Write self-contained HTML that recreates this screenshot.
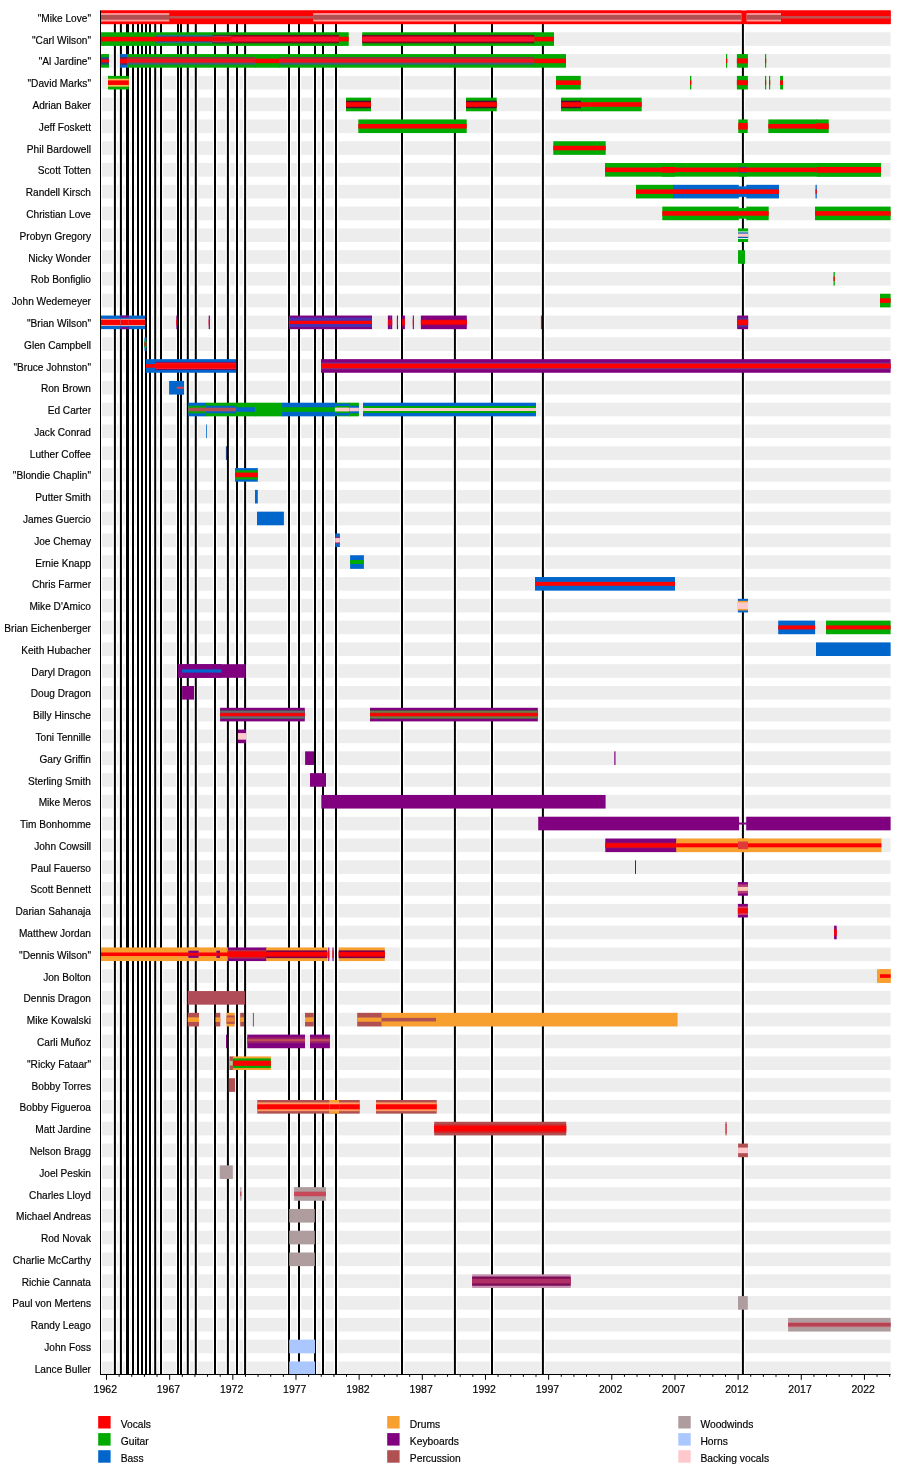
<!DOCTYPE html>
<html><head><meta charset="utf-8"><style>
html,body{margin:0;padding:0;background:#fff;width:900px;height:1474px;overflow:hidden}
svg{display:block;will-change:transform}
.t{font-family:"Liberation Sans",sans-serif;font-size:10.9px;fill:#000;stroke:#000;stroke-width:0.18px}
</style></head><body>
<svg width="900" height="1474" viewBox="0 0 900 1474">
<rect x="100.5" y="10.50" width="790.10" height="13.6" fill="#ededed"/>
<rect x="100.5" y="32.29" width="790.10" height="13.6" fill="#ededed"/>
<rect x="100.5" y="54.08" width="790.10" height="13.6" fill="#ededed"/>
<rect x="100.5" y="75.87" width="790.10" height="13.6" fill="#ededed"/>
<rect x="100.5" y="97.66" width="790.10" height="13.6" fill="#ededed"/>
<rect x="100.5" y="119.45" width="790.10" height="13.6" fill="#ededed"/>
<rect x="100.5" y="141.24" width="790.10" height="13.6" fill="#ededed"/>
<rect x="100.5" y="163.03" width="790.10" height="13.6" fill="#ededed"/>
<rect x="100.5" y="184.82" width="790.10" height="13.6" fill="#ededed"/>
<rect x="100.5" y="206.61" width="790.10" height="13.6" fill="#ededed"/>
<rect x="100.5" y="228.40" width="790.10" height="13.6" fill="#ededed"/>
<rect x="100.5" y="250.19" width="790.10" height="13.6" fill="#ededed"/>
<rect x="100.5" y="271.98" width="790.10" height="13.6" fill="#ededed"/>
<rect x="100.5" y="293.77" width="790.10" height="13.6" fill="#ededed"/>
<rect x="100.5" y="315.56" width="790.10" height="13.6" fill="#ededed"/>
<rect x="100.5" y="337.35" width="790.10" height="13.6" fill="#ededed"/>
<rect x="100.5" y="359.14" width="790.10" height="13.6" fill="#ededed"/>
<rect x="100.5" y="380.93" width="790.10" height="13.6" fill="#ededed"/>
<rect x="100.5" y="402.72" width="790.10" height="13.6" fill="#ededed"/>
<rect x="100.5" y="424.51" width="790.10" height="13.6" fill="#ededed"/>
<rect x="100.5" y="446.30" width="790.10" height="13.6" fill="#ededed"/>
<rect x="100.5" y="468.09" width="790.10" height="13.6" fill="#ededed"/>
<rect x="100.5" y="489.88" width="790.10" height="13.6" fill="#ededed"/>
<rect x="100.5" y="511.67" width="790.10" height="13.6" fill="#ededed"/>
<rect x="100.5" y="533.46" width="790.10" height="13.6" fill="#ededed"/>
<rect x="100.5" y="555.25" width="790.10" height="13.6" fill="#ededed"/>
<rect x="100.5" y="577.04" width="790.10" height="13.6" fill="#ededed"/>
<rect x="100.5" y="598.83" width="790.10" height="13.6" fill="#ededed"/>
<rect x="100.5" y="620.62" width="790.10" height="13.6" fill="#ededed"/>
<rect x="100.5" y="642.41" width="790.10" height="13.6" fill="#ededed"/>
<rect x="100.5" y="664.20" width="790.10" height="13.6" fill="#ededed"/>
<rect x="100.5" y="685.99" width="790.10" height="13.6" fill="#ededed"/>
<rect x="100.5" y="707.78" width="790.10" height="13.6" fill="#ededed"/>
<rect x="100.5" y="729.57" width="790.10" height="13.6" fill="#ededed"/>
<rect x="100.5" y="751.36" width="790.10" height="13.6" fill="#ededed"/>
<rect x="100.5" y="773.15" width="790.10" height="13.6" fill="#ededed"/>
<rect x="100.5" y="794.94" width="790.10" height="13.6" fill="#ededed"/>
<rect x="100.5" y="816.73" width="790.10" height="13.6" fill="#ededed"/>
<rect x="100.5" y="838.52" width="790.10" height="13.6" fill="#ededed"/>
<rect x="100.5" y="860.31" width="790.10" height="13.6" fill="#ededed"/>
<rect x="100.5" y="882.10" width="790.10" height="13.6" fill="#ededed"/>
<rect x="100.5" y="903.89" width="790.10" height="13.6" fill="#ededed"/>
<rect x="100.5" y="925.68" width="790.10" height="13.6" fill="#ededed"/>
<rect x="100.5" y="947.47" width="790.10" height="13.6" fill="#ededed"/>
<rect x="100.5" y="969.26" width="790.10" height="13.6" fill="#ededed"/>
<rect x="100.5" y="991.05" width="790.10" height="13.6" fill="#ededed"/>
<rect x="100.5" y="1012.84" width="790.10" height="13.6" fill="#ededed"/>
<rect x="100.5" y="1034.63" width="790.10" height="13.6" fill="#ededed"/>
<rect x="100.5" y="1056.42" width="790.10" height="13.6" fill="#ededed"/>
<rect x="100.5" y="1078.21" width="790.10" height="13.6" fill="#ededed"/>
<rect x="100.5" y="1100.00" width="790.10" height="13.6" fill="#ededed"/>
<rect x="100.5" y="1121.79" width="790.10" height="13.6" fill="#ededed"/>
<rect x="100.5" y="1143.58" width="790.10" height="13.6" fill="#ededed"/>
<rect x="100.5" y="1165.37" width="790.10" height="13.6" fill="#ededed"/>
<rect x="100.5" y="1187.16" width="790.10" height="13.6" fill="#ededed"/>
<rect x="100.5" y="1208.95" width="790.10" height="13.6" fill="#ededed"/>
<rect x="100.5" y="1230.74" width="790.10" height="13.6" fill="#ededed"/>
<rect x="100.5" y="1252.53" width="790.10" height="13.6" fill="#ededed"/>
<rect x="100.5" y="1274.32" width="790.10" height="13.6" fill="#ededed"/>
<rect x="100.5" y="1296.11" width="790.10" height="13.6" fill="#ededed"/>
<rect x="100.5" y="1317.90" width="790.10" height="13.6" fill="#ededed"/>
<rect x="100.5" y="1339.69" width="790.10" height="13.6" fill="#ededed"/>
<rect x="100.5" y="1361.48" width="790.10" height="13.6" fill="#ededed"/>
<rect x="112.70" y="12.5" width="4.4" height="1361.50" fill="#fff"/>
<rect x="118.70" y="12.5" width="4.4" height="1361.50" fill="#fff"/>
<rect x="124.80" y="12.5" width="4.4" height="1361.50" fill="#fff"/>
<rect x="125.80" y="12.5" width="4.4" height="1361.50" fill="#fff"/>
<rect x="130.80" y="12.5" width="4.4" height="1361.50" fill="#fff"/>
<rect x="135.80" y="12.5" width="4.4" height="1361.50" fill="#fff"/>
<rect x="139.80" y="12.5" width="4.4" height="1361.50" fill="#fff"/>
<rect x="143.80" y="12.5" width="4.4" height="1361.50" fill="#fff"/>
<rect x="147.80" y="12.5" width="4.4" height="1361.50" fill="#fff"/>
<rect x="153.00" y="12.5" width="4.4" height="1361.50" fill="#fff"/>
<rect x="158.80" y="12.5" width="4.4" height="1361.50" fill="#fff"/>
<rect x="175.80" y="12.5" width="4.4" height="1361.50" fill="#fff"/>
<rect x="178.80" y="12.5" width="4.4" height="1361.50" fill="#fff"/>
<rect x="185.60" y="12.5" width="4.4" height="1361.50" fill="#fff"/>
<rect x="193.60" y="12.5" width="4.4" height="1361.50" fill="#fff"/>
<rect x="212.80" y="12.5" width="4.4" height="1361.50" fill="#fff"/>
<rect x="225.70" y="12.5" width="4.4" height="1361.50" fill="#fff"/>
<rect x="234.80" y="12.5" width="4.4" height="1361.50" fill="#fff"/>
<rect x="242.90" y="12.5" width="4.4" height="1361.50" fill="#fff"/>
<rect x="286.80" y="12.5" width="4.4" height="1361.50" fill="#fff"/>
<rect x="296.80" y="12.5" width="4.4" height="1361.50" fill="#fff"/>
<rect x="312.80" y="12.5" width="4.4" height="1361.50" fill="#fff"/>
<rect x="320.80" y="12.5" width="4.4" height="1361.50" fill="#fff"/>
<rect x="333.80" y="12.5" width="4.4" height="1361.50" fill="#fff"/>
<rect x="399.80" y="12.5" width="4.4" height="1361.50" fill="#fff"/>
<rect x="452.70" y="12.5" width="4.4" height="1361.50" fill="#fff"/>
<rect x="489.80" y="12.5" width="4.4" height="1361.50" fill="#fff"/>
<rect x="540.70" y="12.5" width="4.4" height="1361.50" fill="#fff"/>
<rect x="740.70" y="12.5" width="4.4" height="1361.50" fill="#fff"/>
<rect x="100.50" y="10.5" width="1.6" height="1364.00" fill="#fff"/>
<rect x="113.90" y="12.5" width="2" height="1362.00" fill="#000"/>
<rect x="119.90" y="12.5" width="2" height="1362.00" fill="#000"/>
<rect x="126.00" y="12.5" width="2" height="1362.00" fill="#000"/>
<rect x="127.00" y="12.5" width="2" height="1362.00" fill="#000"/>
<rect x="132.00" y="12.5" width="2" height="1362.00" fill="#000"/>
<rect x="137.00" y="12.5" width="2" height="1362.00" fill="#000"/>
<rect x="141.00" y="12.5" width="2" height="1362.00" fill="#000"/>
<rect x="145.00" y="12.5" width="2" height="1362.00" fill="#000"/>
<rect x="149.00" y="12.5" width="2" height="1362.00" fill="#000"/>
<rect x="154.20" y="12.5" width="2" height="1362.00" fill="#000"/>
<rect x="160.00" y="12.5" width="2" height="1362.00" fill="#000"/>
<rect x="177.00" y="12.5" width="2" height="1362.00" fill="#000"/>
<rect x="180.00" y="12.5" width="2" height="1362.00" fill="#000"/>
<rect x="186.80" y="12.5" width="2" height="1362.00" fill="#000"/>
<rect x="194.80" y="12.5" width="2" height="1362.00" fill="#000"/>
<rect x="214.00" y="12.5" width="2" height="1362.00" fill="#000"/>
<rect x="226.90" y="12.5" width="2" height="1362.00" fill="#000"/>
<rect x="236.00" y="12.5" width="2" height="1362.00" fill="#000"/>
<rect x="244.10" y="12.5" width="2" height="1362.00" fill="#000"/>
<rect x="288.00" y="12.5" width="2" height="1362.00" fill="#000"/>
<rect x="298.00" y="12.5" width="2" height="1362.00" fill="#000"/>
<rect x="314.00" y="12.5" width="2" height="1362.00" fill="#000"/>
<rect x="322.00" y="12.5" width="2" height="1362.00" fill="#000"/>
<rect x="335.00" y="12.5" width="2" height="1362.00" fill="#000"/>
<rect x="401.00" y="12.5" width="2" height="1362.00" fill="#000"/>
<rect x="453.90" y="12.5" width="2" height="1362.00" fill="#000"/>
<rect x="491.00" y="12.5" width="2" height="1362.00" fill="#000"/>
<rect x="541.90" y="12.5" width="2" height="1362.00" fill="#000"/>
<rect x="741.90" y="12.5" width="2" height="1362.00" fill="#000"/>
<rect x="100.50" y="10.50" width="790.10" height="13.60" fill="#ff0000"/>
<rect x="100.50" y="10.50" width="69.50" height="13.60" fill="#ff0000"/>
<rect x="100.50" y="13.10" width="69.50" height="8.40" fill="#ff9a9a"/>
<rect x="100.50" y="14.90" width="69.50" height="4.80" fill="#b05050"/>
<rect x="169.30" y="10.50" width="144.60" height="13.60" fill="#ff0000"/>
<rect x="169.30" y="16.00" width="144.60" height="2.60" fill="#c05050"/>
<rect x="313.20" y="10.50" width="428.30" height="13.60" fill="#ff0000"/>
<rect x="313.20" y="13.10" width="428.30" height="8.40" fill="#ff9a9a"/>
<rect x="313.20" y="14.90" width="428.30" height="4.80" fill="#b05050"/>
<rect x="746.50" y="10.50" width="35.20" height="13.60" fill="#ff0000"/>
<rect x="746.50" y="13.10" width="35.20" height="8.40" fill="#ff9a9a"/>
<rect x="746.50" y="14.90" width="35.20" height="4.80" fill="#b05050"/>
<rect x="781.00" y="10.50" width="109.60" height="13.60" fill="#ff0000"/>
<rect x="781.00" y="16.00" width="109.60" height="2.60" fill="#c05050"/>
<rect x="100.50" y="32.29" width="55.30" height="13.60" fill="#00aa00"/>
<rect x="100.50" y="36.79" width="55.30" height="4.60" fill="#ff0000"/>
<rect x="155.10" y="32.29" width="57.90" height="13.60" fill="#00aa00"/>
<rect x="155.10" y="34.79" width="57.90" height="8.60" fill="#1a7a80"/>
<rect x="155.10" y="36.29" width="57.90" height="5.60" fill="#803060"/>
<rect x="155.10" y="37.09" width="57.90" height="4.00" fill="#ff0000"/>
<rect x="212.30" y="32.29" width="19.70" height="13.60" fill="#00aa00"/>
<rect x="212.30" y="34.79" width="19.70" height="8.60" fill="#303030"/>
<rect x="212.30" y="35.79" width="19.70" height="6.60" fill="#a04070"/>
<rect x="212.30" y="36.79" width="19.70" height="4.60" fill="#ff0000"/>
<rect x="231.30" y="32.29" width="108.30" height="13.60" fill="#00aa00"/>
<rect x="231.30" y="34.89" width="108.30" height="8.40" fill="#701020"/>
<rect x="231.30" y="36.29" width="108.30" height="5.60" fill="#e00828"/>
<rect x="231.30" y="37.09" width="108.30" height="4.00" fill="#ff1030"/>
<rect x="338.90" y="32.29" width="9.80" height="13.60" fill="#00aa00"/>
<rect x="338.90" y="36.79" width="9.80" height="4.60" fill="#ff0000"/>
<rect x="362.20" y="32.29" width="172.80" height="13.60" fill="#00aa00"/>
<rect x="362.20" y="34.89" width="172.80" height="8.40" fill="#701020"/>
<rect x="362.20" y="36.29" width="172.80" height="5.60" fill="#e00828"/>
<rect x="362.20" y="37.09" width="172.80" height="4.00" fill="#ff1030"/>
<rect x="534.30" y="32.29" width="19.70" height="13.60" fill="#00aa00"/>
<rect x="534.30" y="36.79" width="19.70" height="4.60" fill="#ff0000"/>
<rect x="100.50" y="54.08" width="8.50" height="13.60" fill="#00aa00"/>
<rect x="100.50" y="57.08" width="8.50" height="7.60" fill="#106080"/>
<rect x="100.50" y="58.58" width="8.50" height="4.60" fill="#702060"/>
<rect x="100.50" y="59.58" width="8.50" height="2.60" fill="#ff0000"/>
<rect x="120.20" y="54.08" width="7.80" height="13.60" fill="#0066cc"/>
<rect x="120.20" y="57.08" width="7.80" height="7.60" fill="#602060"/>
<rect x="120.20" y="58.58" width="7.80" height="4.60" fill="#ff0000"/>
<rect x="127.30" y="54.08" width="128.70" height="13.60" fill="#00aa00"/>
<rect x="127.30" y="57.08" width="128.70" height="1.50" fill="#8a3050"/>
<rect x="127.30" y="58.58" width="128.70" height="4.20" fill="#f01020"/>
<rect x="127.30" y="62.78" width="128.70" height="1.40" fill="#4a5a80"/>
<rect x="127.30" y="64.18" width="128.70" height="0.90" fill="#1a7a6a"/>
<rect x="255.30" y="54.08" width="24.70" height="13.60" fill="#00aa00"/>
<rect x="255.30" y="58.58" width="24.70" height="4.60" fill="#ff0000"/>
<rect x="279.30" y="54.08" width="255.70" height="13.60" fill="#00aa00"/>
<rect x="279.30" y="57.08" width="255.70" height="1.50" fill="#8a3050"/>
<rect x="279.30" y="58.58" width="255.70" height="4.20" fill="#f01020"/>
<rect x="279.30" y="62.78" width="255.70" height="1.40" fill="#4a5a80"/>
<rect x="279.30" y="64.18" width="255.70" height="0.90" fill="#1a7a6a"/>
<rect x="534.30" y="54.08" width="31.70" height="13.60" fill="#00aa00"/>
<rect x="534.30" y="58.58" width="31.70" height="4.60" fill="#ff0000"/>
<rect x="726.00" y="54.08" width="1.20" height="13.60" fill="#00aa00"/>
<rect x="726.00" y="58.58" width="1.20" height="4.60" fill="#ff0000"/>
<rect x="736.90" y="54.08" width="11.00" height="13.60" fill="#00aa00"/>
<rect x="736.90" y="58.38" width="11.00" height="5.00" fill="#ff0000"/>
<rect x="765.00" y="54.08" width="1.20" height="13.60" fill="#00aa00"/>
<rect x="765.00" y="58.58" width="1.20" height="4.60" fill="#ff0000"/>
<rect x="108.00" y="75.87" width="20.80" height="13.60" fill="#00aa00"/>
<rect x="108.00" y="78.67" width="20.80" height="8.00" fill="#f0c050"/>
<rect x="108.00" y="80.37" width="20.80" height="4.60" fill="#ff0000"/>
<rect x="556.00" y="75.87" width="24.70" height="13.60" fill="#00aa00"/>
<rect x="556.00" y="80.37" width="24.70" height="4.60" fill="#ff0000"/>
<rect x="690.00" y="75.87" width="1.30" height="13.60" fill="#00aa00"/>
<rect x="690.00" y="80.37" width="1.30" height="4.60" fill="#ff0000"/>
<rect x="736.90" y="75.87" width="11.00" height="13.60" fill="#00aa00"/>
<rect x="736.90" y="80.17" width="11.00" height="5.00" fill="#ff0000"/>
<rect x="765.00" y="75.87" width="1.20" height="13.60" fill="#00aa00"/>
<rect x="765.00" y="80.37" width="1.20" height="4.60" fill="#ff0000"/>
<rect x="769.00" y="75.87" width="1.20" height="13.60" fill="#00aa00"/>
<rect x="769.00" y="80.37" width="1.20" height="4.60" fill="#ff0000"/>
<rect x="780.10" y="75.87" width="2.90" height="13.60" fill="#00aa00"/>
<rect x="780.10" y="80.37" width="2.90" height="4.60" fill="#ff0000"/>
<rect x="346.00" y="97.66" width="25.00" height="13.60" fill="#00aa00"/>
<rect x="346.00" y="100.66" width="25.00" height="7.60" fill="#501030"/>
<rect x="346.00" y="102.16" width="25.00" height="4.60" fill="#ff0000"/>
<rect x="466.00" y="97.66" width="30.70" height="13.60" fill="#00aa00"/>
<rect x="466.00" y="100.66" width="30.70" height="7.60" fill="#501030"/>
<rect x="466.00" y="102.16" width="30.70" height="4.60" fill="#ff0000"/>
<rect x="561.00" y="97.66" width="20.70" height="13.60" fill="#00aa00"/>
<rect x="561.00" y="100.66" width="20.70" height="7.60" fill="#501030"/>
<rect x="561.00" y="102.16" width="20.70" height="4.60" fill="#ff0000"/>
<rect x="581.00" y="97.66" width="60.70" height="13.60" fill="#00aa00"/>
<rect x="581.00" y="102.16" width="60.70" height="4.60" fill="#ff0000"/>
<rect x="358.30" y="119.45" width="108.40" height="13.60" fill="#00aa00"/>
<rect x="358.30" y="123.95" width="108.40" height="4.60" fill="#ff0000"/>
<rect x="738.30" y="119.45" width="9.40" height="13.60" fill="#00aa00"/>
<rect x="738.30" y="122.95" width="9.40" height="6.60" fill="#ff0000"/>
<rect x="768.30" y="119.45" width="48.40" height="13.60" fill="#00aa00"/>
<rect x="768.30" y="123.95" width="48.40" height="4.60" fill="#ff0000"/>
<rect x="816.00" y="119.45" width="12.70" height="13.60" fill="#00aa00"/>
<rect x="816.00" y="123.35" width="12.70" height="5.80" fill="#ff0000"/>
<rect x="553.30" y="141.24" width="52.40" height="13.60" fill="#00aa00"/>
<rect x="553.30" y="145.74" width="52.40" height="4.60" fill="#ff0000"/>
<rect x="605.00" y="163.03" width="276.00" height="13.60" fill="#00aa00"/>
<rect x="605.00" y="167.53" width="276.00" height="4.60" fill="#ff0000"/>
<rect x="661.70" y="163.03" width="13.30" height="13.60" fill="#00aa00"/>
<rect x="661.70" y="166.93" width="13.30" height="5.80" fill="#ff0000"/>
<rect x="816.70" y="163.03" width="64.30" height="13.60" fill="#00aa00"/>
<rect x="816.70" y="166.93" width="64.30" height="5.80" fill="#ff0000"/>
<rect x="738.80" y="163.03" width="8.20" height="13.60" fill="#00aa00"/>
<rect x="738.80" y="166.83" width="8.20" height="6.00" fill="#3050a0"/>
<rect x="738.80" y="167.63" width="8.20" height="4.40" fill="#ff0000"/>
<rect x="636.00" y="184.82" width="38.00" height="13.60" fill="#00aa00"/>
<rect x="636.00" y="189.32" width="38.00" height="4.60" fill="#ff0000"/>
<rect x="673.30" y="184.82" width="65.50" height="13.60" fill="#0066cc"/>
<rect x="673.30" y="189.32" width="65.50" height="4.60" fill="#ff0000"/>
<rect x="746.30" y="184.82" width="32.70" height="13.60" fill="#0066cc"/>
<rect x="746.30" y="189.32" width="32.70" height="4.60" fill="#ff0000"/>
<rect x="815.50" y="184.82" width="1.30" height="13.60" fill="#0066cc"/>
<rect x="815.50" y="189.32" width="1.30" height="4.60" fill="#ff0000"/>
<rect x="738.10" y="186.32" width="8.90" height="10.60" fill="#0066cc"/>
<rect x="738.10" y="189.32" width="8.90" height="4.60" fill="#ff0000"/>
<rect x="662.30" y="206.61" width="76.50" height="13.60" fill="#00aa00"/>
<rect x="662.30" y="211.11" width="76.50" height="4.60" fill="#ff0000"/>
<rect x="746.30" y="206.61" width="22.40" height="13.60" fill="#00aa00"/>
<rect x="746.30" y="211.11" width="22.40" height="4.60" fill="#ff0000"/>
<rect x="815.00" y="206.61" width="75.60" height="13.60" fill="#00aa00"/>
<rect x="815.00" y="211.11" width="75.60" height="4.60" fill="#ff0000"/>
<rect x="738.10" y="208.11" width="8.90" height="10.60" fill="#00aa00"/>
<rect x="738.10" y="211.11" width="8.90" height="4.60" fill="#ff0000"/>
<rect x="738.00" y="228.40" width="10.10" height="13.60" fill="#00aa00"/>
<rect x="738.00" y="231.40" width="10.10" height="7.60" fill="#c8f0ff"/>
<rect x="738.00" y="232.40" width="10.10" height="5.60" fill="#1060a0"/>
<rect x="738.00" y="233.60" width="10.10" height="3.20" fill="#ffc8cc"/>
<rect x="738.00" y="250.19" width="7.00" height="13.60" fill="#00aa00"/>
<rect x="833.50" y="271.98" width="1.30" height="13.60" fill="#00aa00"/>
<rect x="833.50" y="276.48" width="1.30" height="4.60" fill="#ff0000"/>
<rect x="880.00" y="293.77" width="10.60" height="13.60" fill="#00aa00"/>
<rect x="880.00" y="298.27" width="10.60" height="4.60" fill="#ff0000"/>
<rect x="100.50" y="315.56" width="44.50" height="13.60" fill="#0066cc"/>
<rect x="100.50" y="318.86" width="44.50" height="7.00" fill="#ffc0b0"/>
<rect x="100.50" y="319.66" width="44.50" height="5.40" fill="#ff0000"/>
<rect x="120.50" y="315.56" width="8.30" height="13.60" fill="#800080"/>
<rect x="120.50" y="317.56" width="8.30" height="9.60" fill="#0066cc"/>
<rect x="120.50" y="318.86" width="8.30" height="7.00" fill="#ffc0b0"/>
<rect x="120.50" y="319.66" width="8.30" height="5.40" fill="#ff0000"/>
<rect x="208.70" y="315.56" width="1.20" height="13.60" fill="#800080"/>
<rect x="208.70" y="319.56" width="1.20" height="5.60" fill="#ff0000"/>
<rect x="288.90" y="315.56" width="83.10" height="13.60" fill="#800080"/>
<rect x="288.90" y="317.56" width="83.10" height="9.60" fill="#4a30b0"/>
<rect x="288.90" y="320.76" width="83.10" height="3.20" fill="#ff0000"/>
<rect x="387.90" y="315.56" width="1.10" height="13.60" fill="#800080"/>
<rect x="387.90" y="319.56" width="1.10" height="5.60" fill="#ff0000"/>
<rect x="388.80" y="315.56" width="1.80" height="13.60" fill="#800080"/>
<rect x="388.80" y="319.56" width="1.80" height="5.60" fill="#ff0000"/>
<rect x="390.40" y="315.56" width="1.80" height="13.60" fill="#800080"/>
<rect x="390.40" y="319.56" width="1.80" height="5.60" fill="#ff0000"/>
<rect x="396.90" y="315.56" width="1.10" height="13.60" fill="#800080"/>
<rect x="396.90" y="319.56" width="1.10" height="5.60" fill="#ff0000"/>
<rect x="402.20" y="315.56" width="2.70" height="13.60" fill="#800080"/>
<rect x="402.20" y="319.06" width="2.70" height="6.60" fill="#ff0000"/>
<rect x="412.80" y="315.56" width="1.10" height="13.60" fill="#800080"/>
<rect x="412.80" y="319.56" width="1.10" height="5.60" fill="#ff0000"/>
<rect x="420.90" y="315.56" width="45.90" height="13.60" fill="#800080"/>
<rect x="420.90" y="319.36" width="45.90" height="6.00" fill="#a00050"/>
<rect x="420.90" y="320.16" width="45.90" height="4.40" fill="#ff0000"/>
<rect x="540.90" y="315.56" width="1.10" height="13.60" fill="#ff0000"/>
<rect x="737.20" y="315.56" width="10.90" height="13.60" fill="#800080"/>
<rect x="737.20" y="317.56" width="10.90" height="9.60" fill="#5030a0"/>
<rect x="737.20" y="319.56" width="10.90" height="5.60" fill="#ff0000"/>
<rect x="176.30" y="315.56" width="1.10" height="13.60" fill="#800080"/>
<rect x="176.30" y="319.56" width="1.10" height="5.60" fill="#ff0000"/>
<rect x="144.50" y="337.35" width="2.00" height="13.60" fill="#0066cc"/>
<rect x="144.50" y="340.35" width="2.00" height="7.60" fill="#00aa00"/>
<rect x="144.50" y="342.35" width="2.00" height="3.60" fill="#ff0000"/>
<rect x="145.80" y="359.14" width="10.30" height="13.60" fill="#0066cc"/>
<rect x="145.80" y="364.14" width="10.30" height="3.60" fill="#ff0000"/>
<rect x="155.40" y="359.14" width="80.70" height="13.60" fill="#0066cc"/>
<rect x="155.40" y="361.94" width="80.70" height="8.00" fill="#500060"/>
<rect x="155.40" y="362.64" width="80.70" height="6.60" fill="#f03050"/>
<rect x="155.40" y="363.44" width="80.70" height="5.00" fill="#ff0000"/>
<rect x="321.00" y="359.14" width="569.60" height="13.60" fill="#800080"/>
<rect x="321.00" y="362.54" width="569.60" height="6.80" fill="#6a3a9a"/>
<rect x="321.00" y="363.54" width="569.60" height="4.80" fill="#ff0000"/>
<rect x="169.10" y="380.93" width="14.80" height="13.60" fill="#0066cc"/>
<rect x="176.70" y="380.93" width="7.20" height="13.60" fill="#0066cc"/>
<rect x="176.70" y="386.73" width="7.20" height="2.00" fill="#e04040"/>
<rect x="188.30" y="402.72" width="18.40" height="13.60" fill="#0066cc"/>
<rect x="188.30" y="405.72" width="18.40" height="7.60" fill="#00aa00"/>
<rect x="188.30" y="407.72" width="18.40" height="3.60" fill="#b05050"/>
<rect x="206.00" y="402.72" width="30.70" height="13.60" fill="#00aa00"/>
<rect x="206.00" y="405.72" width="30.70" height="7.60" fill="#0066cc"/>
<rect x="206.00" y="407.72" width="30.70" height="3.60" fill="#b05050"/>
<rect x="236.00" y="402.72" width="19.60" height="13.60" fill="#00aa00"/>
<rect x="236.00" y="407.22" width="19.60" height="4.60" fill="#0066cc"/>
<rect x="254.90" y="402.72" width="27.90" height="13.60" fill="#00aa00"/>
<rect x="282.10" y="402.72" width="53.50" height="13.60" fill="#0066cc"/>
<rect x="282.10" y="407.22" width="53.50" height="4.60" fill="#00aa00"/>
<rect x="334.90" y="402.72" width="15.10" height="13.60" fill="#00aa00"/>
<rect x="334.90" y="403.52" width="15.10" height="12.00" fill="#0066cc"/>
<rect x="334.90" y="406.02" width="15.10" height="7.00" fill="#00aa00"/>
<rect x="334.90" y="407.62" width="15.10" height="3.80" fill="#ffc8cc"/>
<rect x="349.30" y="402.72" width="9.60" height="13.60" fill="#00aa00"/>
<rect x="349.30" y="405.72" width="9.60" height="7.60" fill="#0066cc"/>
<rect x="349.30" y="407.72" width="9.60" height="3.60" fill="#ffc8cc"/>
<rect x="363.00" y="402.72" width="173.00" height="13.60" fill="#0066cc"/>
<rect x="363.00" y="406.02" width="173.00" height="7.00" fill="#00aa00"/>
<rect x="363.00" y="408.02" width="173.00" height="3.00" fill="#ffc8cc"/>
<rect x="206.10" y="424.51" width="0.80" height="13.60" fill="#0066cc"/>
<rect x="225.90" y="446.30" width="1.00" height="13.60" fill="#103070"/>
<rect x="235.00" y="468.09" width="22.80" height="13.60" fill="#0066cc"/>
<rect x="235.00" y="470.29" width="22.80" height="9.20" fill="#00aa00"/>
<rect x="235.00" y="472.59" width="22.80" height="4.60" fill="#ff0000"/>
<rect x="255.00" y="489.88" width="2.80" height="13.60" fill="#0066cc"/>
<rect x="257.00" y="511.67" width="26.90" height="13.60" fill="#0066cc"/>
<rect x="335.20" y="533.46" width="4.70" height="13.60" fill="#0066cc"/>
<rect x="335.20" y="536.76" width="4.70" height="7.00" fill="#903070"/>
<rect x="335.20" y="538.06" width="4.70" height="4.40" fill="#ffc8cc"/>
<rect x="350.10" y="555.25" width="13.80" height="13.60" fill="#0066cc"/>
<rect x="350.10" y="560.05" width="13.80" height="4.00" fill="#00aa00"/>
<rect x="535.00" y="577.04" width="140.00" height="13.60" fill="#0066cc"/>
<rect x="535.00" y="581.84" width="140.00" height="4.00" fill="#ff0000"/>
<rect x="737.90" y="598.83" width="10.10" height="13.60" fill="#0066cc"/>
<rect x="737.90" y="600.83" width="10.10" height="9.60" fill="#f7a030"/>
<rect x="737.90" y="602.33" width="10.10" height="6.60" fill="#ffc8cc"/>
<rect x="778.20" y="620.62" width="36.90" height="13.60" fill="#0066cc"/>
<rect x="778.20" y="625.42" width="36.90" height="4.00" fill="#ff0000"/>
<rect x="826.00" y="620.62" width="64.60" height="13.60" fill="#00aa00"/>
<rect x="826.00" y="625.42" width="64.60" height="4.00" fill="#ff0000"/>
<rect x="816.00" y="642.41" width="74.60" height="13.60" fill="#0066cc"/>
<rect x="178.00" y="664.20" width="67.60" height="13.60" fill="#800080"/>
<rect x="182.10" y="664.20" width="39.50" height="13.60" fill="#800080"/>
<rect x="182.10" y="669.40" width="39.50" height="3.20" fill="#0066cc"/>
<rect x="182.10" y="685.99" width="11.90" height="13.60" fill="#800080"/>
<rect x="220.10" y="707.78" width="84.70" height="13.60" fill="#800080"/>
<rect x="220.10" y="710.18" width="84.70" height="8.80" fill="#404050"/>
<rect x="220.10" y="710.68" width="84.70" height="7.80" fill="#6a6a70"/>
<rect x="220.10" y="712.68" width="84.70" height="3.80" fill="#a03040"/>
<rect x="220.10" y="713.28" width="84.70" height="2.60" fill="#ff0000"/>
<rect x="370.00" y="707.78" width="167.80" height="13.60" fill="#800080"/>
<rect x="370.00" y="710.18" width="167.80" height="8.80" fill="#404050"/>
<rect x="370.00" y="710.68" width="167.80" height="7.80" fill="#727a4a"/>
<rect x="370.00" y="712.68" width="167.80" height="3.80" fill="#b03018"/>
<rect x="370.00" y="713.28" width="167.80" height="2.60" fill="#ff0000"/>
<rect x="237.90" y="729.57" width="8.20" height="13.60" fill="#800080"/>
<rect x="237.90" y="733.07" width="8.20" height="6.60" fill="#ffc8cc"/>
<rect x="305.10" y="751.36" width="8.90" height="13.60" fill="#800080"/>
<rect x="614.30" y="751.36" width="1.20" height="13.60" fill="#800080"/>
<rect x="310.00" y="773.15" width="16.00" height="13.60" fill="#800080"/>
<rect x="321.30" y="794.94" width="284.30" height="13.60" fill="#800080"/>
<rect x="538.20" y="816.73" width="200.80" height="13.60" fill="#800080"/>
<rect x="738.30" y="822.53" width="8.60" height="2.00" fill="#800080"/>
<rect x="746.20" y="816.73" width="144.40" height="13.60" fill="#800080"/>
<rect x="605.30" y="838.52" width="71.60" height="13.60" fill="#800080"/>
<rect x="605.30" y="842.52" width="71.60" height="5.60" fill="#a01850"/>
<rect x="605.30" y="843.22" width="71.60" height="4.20" fill="#ff0000"/>
<rect x="676.20" y="838.52" width="205.20" height="13.60" fill="#f7a030"/>
<rect x="676.20" y="843.32" width="205.20" height="4.00" fill="#ff0000"/>
<rect x="738.00" y="838.52" width="10.00" height="13.60" fill="#f7a030"/>
<rect x="738.00" y="841.52" width="10.00" height="7.60" fill="#e03a3a"/>
<rect x="635.00" y="860.31" width="1.00" height="13.60" fill="#800080"/>
<rect x="737.90" y="882.10" width="10.00" height="13.60" fill="#800080"/>
<rect x="737.90" y="884.30" width="10.00" height="9.20" fill="#b83a72"/>
<rect x="737.90" y="886.90" width="10.00" height="4.00" fill="#ffcab8"/>
<rect x="737.90" y="903.89" width="10.00" height="13.60" fill="#800080"/>
<rect x="737.90" y="906.49" width="10.00" height="8.40" fill="#d8406a"/>
<rect x="737.90" y="908.09" width="10.00" height="5.20" fill="#f00808"/>
<rect x="834.10" y="925.68" width="2.60" height="13.60" fill="#800080"/>
<rect x="834.10" y="929.18" width="2.60" height="6.60" fill="#ff0000"/>
<rect x="100.50" y="947.47" width="128.00" height="13.60" fill="#f7a030"/>
<rect x="100.50" y="952.47" width="128.00" height="3.60" fill="#ff0000"/>
<rect x="188.30" y="947.47" width="10.30" height="13.60" fill="#f7a030"/>
<rect x="188.30" y="950.67" width="10.30" height="7.20" fill="#800080"/>
<rect x="188.30" y="952.87" width="10.30" height="2.80" fill="#ff0000"/>
<rect x="216.40" y="947.47" width="3.60" height="13.60" fill="#f7a030"/>
<rect x="216.40" y="950.67" width="3.60" height="7.20" fill="#800080"/>
<rect x="216.40" y="952.87" width="3.60" height="2.80" fill="#ff0000"/>
<rect x="227.80" y="947.47" width="39.10" height="13.60" fill="#800080"/>
<rect x="227.80" y="949.97" width="39.10" height="8.60" fill="#a83050"/>
<rect x="227.80" y="951.37" width="39.10" height="5.80" fill="#ff0000"/>
<rect x="266.20" y="947.47" width="61.20" height="13.60" fill="#f7a030"/>
<rect x="266.20" y="950.37" width="61.20" height="7.80" fill="#800048"/>
<rect x="266.20" y="952.07" width="61.20" height="4.40" fill="#ff0000"/>
<rect x="328.20" y="947.47" width="1.10" height="13.60" fill="#800080"/>
<rect x="328.20" y="950.47" width="1.10" height="7.60" fill="#ff0000"/>
<rect x="332.50" y="947.47" width="1.10" height="13.60" fill="#800080"/>
<rect x="332.50" y="950.47" width="1.10" height="7.60" fill="#ff0000"/>
<rect x="338.70" y="947.47" width="46.10" height="13.60" fill="#f7a030"/>
<rect x="338.70" y="950.37" width="46.10" height="7.80" fill="#800048"/>
<rect x="338.70" y="952.07" width="46.10" height="4.40" fill="#ff0000"/>
<rect x="877.00" y="969.26" width="13.60" height="13.60" fill="#f7a030"/>
<rect x="880.00" y="969.26" width="10.60" height="13.60" fill="#f7a030"/>
<rect x="880.00" y="974.26" width="10.60" height="3.60" fill="#ff0000"/>
<rect x="187.80" y="991.05" width="57.10" height="13.60" fill="#b04c58"/>
<rect x="187.80" y="1012.84" width="11.20" height="13.60" fill="#b05050"/>
<rect x="187.80" y="1017.34" width="11.20" height="4.60" fill="#f7a030"/>
<rect x="215.60" y="1012.84" width="4.70" height="13.60" fill="#b05050"/>
<rect x="215.60" y="1017.34" width="4.70" height="4.60" fill="#f7a030"/>
<rect x="226.50" y="1012.84" width="8.20" height="13.60" fill="#f7a030"/>
<rect x="226.50" y="1015.44" width="8.20" height="8.40" fill="#b05050"/>
<rect x="226.50" y="1017.44" width="8.20" height="4.40" fill="#e8843a"/>
<rect x="240.20" y="1012.84" width="3.80" height="13.60" fill="#b05050"/>
<rect x="240.20" y="1017.34" width="3.80" height="4.60" fill="#f7a030"/>
<rect x="252.90" y="1012.84" width="1.00" height="13.60" fill="#705080"/>
<rect x="305.00" y="1012.84" width="8.80" height="13.60" fill="#b05050"/>
<rect x="305.00" y="1017.34" width="8.80" height="4.60" fill="#f7a030"/>
<rect x="357.20" y="1012.84" width="25.00" height="13.60" fill="#b05050"/>
<rect x="357.20" y="1017.54" width="25.00" height="4.20" fill="#f7a030"/>
<rect x="381.50" y="1012.84" width="55.20" height="13.60" fill="#f7a030"/>
<rect x="381.50" y="1017.84" width="55.20" height="3.60" fill="#b05050"/>
<rect x="436.00" y="1012.84" width="241.60" height="13.60" fill="#f7a030"/>
<rect x="226.00" y="1034.63" width="1.00" height="13.60" fill="#800080"/>
<rect x="247.30" y="1034.63" width="57.70" height="13.60" fill="#800080"/>
<rect x="247.30" y="1037.23" width="57.70" height="1.80" fill="#98206a"/>
<rect x="247.30" y="1039.03" width="57.70" height="2.60" fill="#c04a58"/>
<rect x="247.30" y="1041.63" width="57.70" height="1.60" fill="#982468"/>
<rect x="310.00" y="1034.63" width="19.90" height="13.60" fill="#800080"/>
<rect x="310.00" y="1037.23" width="19.90" height="1.80" fill="#98206a"/>
<rect x="310.00" y="1039.03" width="19.90" height="2.60" fill="#c04a58"/>
<rect x="310.00" y="1041.63" width="19.90" height="1.60" fill="#982468"/>
<rect x="229.40" y="1056.42" width="4.20" height="13.60" fill="#b05050"/>
<rect x="229.40" y="1060.92" width="4.20" height="4.60" fill="#b0c0a0"/>
<rect x="232.90" y="1056.42" width="37.90" height="13.60" fill="#f7a030"/>
<rect x="232.90" y="1058.42" width="37.90" height="9.60" fill="#00aa00"/>
<rect x="232.90" y="1060.62" width="37.90" height="5.20" fill="#ff0000"/>
<rect x="228.80" y="1078.21" width="6.30" height="13.60" fill="#b05050"/>
<rect x="257.30" y="1100.00" width="102.40" height="13.60" fill="#b05050"/>
<rect x="257.30" y="1102.40" width="102.40" height="8.80" fill="#ff9a60"/>
<rect x="257.30" y="1104.30" width="102.40" height="5.00" fill="#ff0000"/>
<rect x="329.30" y="1100.00" width="9.80" height="13.60" fill="#f7a030"/>
<rect x="329.30" y="1102.40" width="9.80" height="8.80" fill="#ffb070"/>
<rect x="329.30" y="1104.30" width="9.80" height="5.00" fill="#ff0000"/>
<rect x="376.00" y="1100.00" width="60.70" height="13.60" fill="#b05050"/>
<rect x="376.00" y="1102.40" width="60.70" height="8.80" fill="#ff9a60"/>
<rect x="376.00" y="1104.30" width="60.70" height="5.00" fill="#ff0000"/>
<rect x="434.20" y="1121.79" width="132.00" height="13.60" fill="#b05050"/>
<rect x="434.20" y="1124.29" width="132.00" height="8.60" fill="#d02830"/>
<rect x="434.20" y="1125.79" width="132.00" height="5.60" fill="#ff0000"/>
<rect x="725.50" y="1121.79" width="1.10" height="13.60" fill="#b05050"/>
<rect x="725.50" y="1123.79" width="1.10" height="9.60" fill="#d83040"/>
<rect x="738.10" y="1143.58" width="9.80" height="13.60" fill="#b05050"/>
<rect x="738.10" y="1147.58" width="9.80" height="5.60" fill="#ffc8cc"/>
<rect x="219.80" y="1165.37" width="13.00" height="13.60" fill="#ae9c9f"/>
<rect x="240.20" y="1187.16" width="1.20" height="13.60" fill="#ae9c9f"/>
<rect x="240.20" y="1191.66" width="1.20" height="4.60" fill="#c8485a"/>
<rect x="294.10" y="1187.16" width="31.80" height="13.60" fill="#ae9c9f"/>
<rect x="294.10" y="1191.66" width="31.80" height="4.60" fill="#c8485a"/>
<rect x="289.20" y="1208.95" width="25.60" height="13.60" fill="#ae9c9f"/>
<rect x="289.20" y="1230.74" width="25.60" height="13.60" fill="#ae9c9f"/>
<rect x="289.20" y="1252.53" width="25.60" height="13.60" fill="#ae9c9f"/>
<rect x="472.10" y="1274.32" width="98.60" height="13.60" fill="#c890b0"/>
<rect x="472.10" y="1276.52" width="98.60" height="9.20" fill="#780a58"/>
<rect x="472.10" y="1278.72" width="98.60" height="4.80" fill="#b03065"/>
<rect x="738.00" y="1296.11" width="9.80" height="13.60" fill="#ae9c9f"/>
<rect x="788.10" y="1317.90" width="102.50" height="13.60" fill="#ae9c9f"/>
<rect x="788.10" y="1321.90" width="102.50" height="5.60" fill="#c08890"/>
<rect x="788.10" y="1322.90" width="102.50" height="3.60" fill="#b84050"/>
<rect x="289.20" y="1339.69" width="25.80" height="13.60" fill="#aac8ff"/>
<rect x="289.20" y="1361.48" width="25.80" height="13.60" fill="#aac8ff"/>
<rect x="100.00" y="10.5" width="1" height="1364.50" fill="#000"/>
<rect x="100.00" y="1374.00" width="790.60" height="1" fill="#000"/>
<rect x="106.00" y="1374.50" width="1" height="5.3" fill="#000"/>
<text x="109.12" y="1392.8" text-anchor="middle" class="t" transform="scale(0.965,1)">1962</text>
<rect x="118.63" y="1374.50" width="1" height="2.3" fill="#000"/>
<rect x="131.26" y="1374.50" width="1" height="2.3" fill="#000"/>
<rect x="143.90" y="1374.50" width="1" height="2.3" fill="#000"/>
<rect x="156.53" y="1374.50" width="1" height="2.3" fill="#000"/>
<rect x="169.16" y="1374.50" width="1" height="5.3" fill="#000"/>
<text x="174.57" y="1392.8" text-anchor="middle" class="t" transform="scale(0.965,1)">1967</text>
<rect x="181.79" y="1374.50" width="1" height="2.3" fill="#000"/>
<rect x="194.42" y="1374.50" width="1" height="2.3" fill="#000"/>
<rect x="207.06" y="1374.50" width="1" height="2.3" fill="#000"/>
<rect x="219.69" y="1374.50" width="1" height="2.3" fill="#000"/>
<rect x="232.32" y="1374.50" width="1" height="5.3" fill="#000"/>
<text x="240.02" y="1392.8" text-anchor="middle" class="t" transform="scale(0.965,1)">1972</text>
<rect x="244.95" y="1374.50" width="1" height="2.3" fill="#000"/>
<rect x="257.58" y="1374.50" width="1" height="2.3" fill="#000"/>
<rect x="270.22" y="1374.50" width="1" height="2.3" fill="#000"/>
<rect x="282.85" y="1374.50" width="1" height="2.3" fill="#000"/>
<rect x="295.48" y="1374.50" width="1" height="5.3" fill="#000"/>
<text x="305.47" y="1392.8" text-anchor="middle" class="t" transform="scale(0.965,1)">1977</text>
<rect x="308.11" y="1374.50" width="1" height="2.3" fill="#000"/>
<rect x="320.74" y="1374.50" width="1" height="2.3" fill="#000"/>
<rect x="333.38" y="1374.50" width="1" height="2.3" fill="#000"/>
<rect x="346.01" y="1374.50" width="1" height="2.3" fill="#000"/>
<rect x="358.64" y="1374.50" width="1" height="5.3" fill="#000"/>
<text x="370.92" y="1392.8" text-anchor="middle" class="t" transform="scale(0.965,1)">1982</text>
<rect x="371.27" y="1374.50" width="1" height="2.3" fill="#000"/>
<rect x="383.90" y="1374.50" width="1" height="2.3" fill="#000"/>
<rect x="396.54" y="1374.50" width="1" height="2.3" fill="#000"/>
<rect x="409.17" y="1374.50" width="1" height="2.3" fill="#000"/>
<rect x="421.80" y="1374.50" width="1" height="5.3" fill="#000"/>
<text x="436.37" y="1392.8" text-anchor="middle" class="t" transform="scale(0.965,1)">1987</text>
<rect x="434.43" y="1374.50" width="1" height="2.3" fill="#000"/>
<rect x="447.06" y="1374.50" width="1" height="2.3" fill="#000"/>
<rect x="459.70" y="1374.50" width="1" height="2.3" fill="#000"/>
<rect x="472.33" y="1374.50" width="1" height="2.3" fill="#000"/>
<rect x="484.96" y="1374.50" width="1" height="5.3" fill="#000"/>
<text x="501.82" y="1392.8" text-anchor="middle" class="t" transform="scale(0.965,1)">1992</text>
<rect x="497.59" y="1374.50" width="1" height="2.3" fill="#000"/>
<rect x="510.22" y="1374.50" width="1" height="2.3" fill="#000"/>
<rect x="522.86" y="1374.50" width="1" height="2.3" fill="#000"/>
<rect x="535.49" y="1374.50" width="1" height="2.3" fill="#000"/>
<rect x="548.12" y="1374.50" width="1" height="5.3" fill="#000"/>
<text x="567.27" y="1392.8" text-anchor="middle" class="t" transform="scale(0.965,1)">1997</text>
<rect x="560.75" y="1374.50" width="1" height="2.3" fill="#000"/>
<rect x="573.38" y="1374.50" width="1" height="2.3" fill="#000"/>
<rect x="586.02" y="1374.50" width="1" height="2.3" fill="#000"/>
<rect x="598.65" y="1374.50" width="1" height="2.3" fill="#000"/>
<rect x="611.28" y="1374.50" width="1" height="5.3" fill="#000"/>
<text x="632.73" y="1392.8" text-anchor="middle" class="t" transform="scale(0.965,1)">2002</text>
<rect x="623.91" y="1374.50" width="1" height="2.3" fill="#000"/>
<rect x="636.54" y="1374.50" width="1" height="2.3" fill="#000"/>
<rect x="649.18" y="1374.50" width="1" height="2.3" fill="#000"/>
<rect x="661.81" y="1374.50" width="1" height="2.3" fill="#000"/>
<rect x="674.44" y="1374.50" width="1" height="5.3" fill="#000"/>
<text x="698.18" y="1392.8" text-anchor="middle" class="t" transform="scale(0.965,1)">2007</text>
<rect x="687.07" y="1374.50" width="1" height="2.3" fill="#000"/>
<rect x="699.70" y="1374.50" width="1" height="2.3" fill="#000"/>
<rect x="712.34" y="1374.50" width="1" height="2.3" fill="#000"/>
<rect x="724.97" y="1374.50" width="1" height="2.3" fill="#000"/>
<rect x="737.60" y="1374.50" width="1" height="5.3" fill="#000"/>
<text x="763.63" y="1392.8" text-anchor="middle" class="t" transform="scale(0.965,1)">2012</text>
<rect x="750.23" y="1374.50" width="1" height="2.3" fill="#000"/>
<rect x="762.86" y="1374.50" width="1" height="2.3" fill="#000"/>
<rect x="775.50" y="1374.50" width="1" height="2.3" fill="#000"/>
<rect x="788.13" y="1374.50" width="1" height="2.3" fill="#000"/>
<rect x="800.76" y="1374.50" width="1" height="5.3" fill="#000"/>
<text x="829.08" y="1392.8" text-anchor="middle" class="t" transform="scale(0.965,1)">2017</text>
<rect x="813.39" y="1374.50" width="1" height="2.3" fill="#000"/>
<rect x="826.02" y="1374.50" width="1" height="2.3" fill="#000"/>
<rect x="838.66" y="1374.50" width="1" height="2.3" fill="#000"/>
<rect x="851.29" y="1374.50" width="1" height="2.3" fill="#000"/>
<rect x="863.92" y="1374.50" width="1" height="5.3" fill="#000"/>
<text x="894.53" y="1392.8" text-anchor="middle" class="t" transform="scale(0.965,1)">2022</text>
<rect x="876.55" y="1374.50" width="1" height="2.3" fill="#000"/>
<rect x="889.18" y="1374.50" width="1" height="2.3" fill="#000"/>
<g class="t" transform="translate(91.0,0) scale(0.93,1)"><text x="0" y="21.90" text-anchor="end">"Mike Love"</text><text x="0" y="43.69" text-anchor="end">"Carl Wilson"</text><text x="0" y="65.48" text-anchor="end">"Al Jardine"</text><text x="0" y="87.27" text-anchor="end">"David Marks"</text><text x="0" y="109.06" text-anchor="end">Adrian Baker</text><text x="0" y="130.85" text-anchor="end">Jeff Foskett</text><text x="0" y="152.64" text-anchor="end">Phil Bardowell</text><text x="0" y="174.43" text-anchor="end">Scott Totten</text><text x="0" y="196.22" text-anchor="end">Randell Kirsch</text><text x="0" y="218.01" text-anchor="end">Christian Love</text><text x="0" y="239.80" text-anchor="end">Probyn Gregory</text><text x="0" y="261.59" text-anchor="end">Nicky Wonder</text><text x="0" y="283.38" text-anchor="end">Rob Bonfiglio</text><text x="0" y="305.17" text-anchor="end">John Wedemeyer</text><text x="0" y="326.96" text-anchor="end">"Brian Wilson"</text><text x="0" y="348.75" text-anchor="end">Glen Campbell</text><text x="0" y="370.54" text-anchor="end">"Bruce Johnston"</text><text x="0" y="392.33" text-anchor="end">Ron Brown</text><text x="0" y="414.12" text-anchor="end">Ed Carter</text><text x="0" y="435.91" text-anchor="end">Jack Conrad</text><text x="0" y="457.70" text-anchor="end">Luther Coffee</text><text x="0" y="479.49" text-anchor="end">"Blondie Chaplin"</text><text x="0" y="501.28" text-anchor="end">Putter Smith</text><text x="0" y="523.07" text-anchor="end">James Guercio</text><text x="0" y="544.86" text-anchor="end">Joe Chemay</text><text x="0" y="566.65" text-anchor="end">Ernie Knapp</text><text x="0" y="588.44" text-anchor="end">Chris Farmer</text><text x="0" y="610.23" text-anchor="end">Mike D'Amico</text><text x="0" y="632.02" text-anchor="end">Brian Eichenberger</text><text x="0" y="653.81" text-anchor="end">Keith Hubacher</text><text x="0" y="675.60" text-anchor="end">Daryl Dragon</text><text x="0" y="697.39" text-anchor="end">Doug Dragon</text><text x="0" y="719.18" text-anchor="end">Billy Hinsche</text><text x="0" y="740.97" text-anchor="end">Toni Tennille</text><text x="0" y="762.76" text-anchor="end">Gary Griffin</text><text x="0" y="784.55" text-anchor="end">Sterling Smith</text><text x="0" y="806.34" text-anchor="end">Mike Meros</text><text x="0" y="828.13" text-anchor="end">Tim Bonhomme</text><text x="0" y="849.92" text-anchor="end">John Cowsill</text><text x="0" y="871.71" text-anchor="end">Paul Fauerso</text><text x="0" y="893.50" text-anchor="end">Scott Bennett</text><text x="0" y="915.29" text-anchor="end">Darian Sahanaja</text><text x="0" y="937.08" text-anchor="end">Matthew Jordan</text><text x="0" y="958.87" text-anchor="end">"Dennis Wilson"</text><text x="0" y="980.66" text-anchor="end">Jon Bolton</text><text x="0" y="1002.45" text-anchor="end">Dennis Dragon</text><text x="0" y="1024.24" text-anchor="end">Mike Kowalski</text><text x="0" y="1046.03" text-anchor="end">Carli Muñoz</text><text x="0" y="1067.82" text-anchor="end">"Ricky Fataar"</text><text x="0" y="1089.61" text-anchor="end">Bobby Torres</text><text x="0" y="1111.40" text-anchor="end">Bobby Figueroa</text><text x="0" y="1133.19" text-anchor="end">Matt Jardine</text><text x="0" y="1154.98" text-anchor="end">Nelson Bragg</text><text x="0" y="1176.77" text-anchor="end">Joel Peskin</text><text x="0" y="1198.56" text-anchor="end">Charles Lloyd</text><text x="0" y="1220.35" text-anchor="end">Michael Andreas</text><text x="0" y="1242.14" text-anchor="end">Rod Novak</text><text x="0" y="1263.93" text-anchor="end">Charlie McCarthy</text><text x="0" y="1285.72" text-anchor="end">Richie Cannata</text><text x="0" y="1307.51" text-anchor="end">Paul von Mertens</text><text x="0" y="1329.30" text-anchor="end">Randy Leago</text><text x="0" y="1351.09" text-anchor="end">John Foss</text><text x="0" y="1372.88" text-anchor="end">Lance Buller</text></g>
<rect x="98.2" y="1416.00" width="12.4" height="12.5" fill="#ff0000"/>
<text x="127.72" y="1427.80" class="t" transform="scale(0.945,1)">Vocals</text>
<rect x="98.2" y="1433.10" width="12.4" height="12.5" fill="#00aa00"/>
<text x="127.72" y="1444.90" class="t" transform="scale(0.945,1)">Guitar</text>
<rect x="98.2" y="1450.20" width="12.4" height="12.5" fill="#0066cc"/>
<text x="127.72" y="1462.00" class="t" transform="scale(0.945,1)">Bass</text>
<rect x="387.2" y="1416.00" width="12.4" height="12.5" fill="#f7a030"/>
<text x="433.65" y="1427.80" class="t" transform="scale(0.945,1)">Drums</text>
<rect x="387.2" y="1433.10" width="12.4" height="12.5" fill="#800080"/>
<text x="433.65" y="1444.90" class="t" transform="scale(0.945,1)">Keyboards</text>
<rect x="387.2" y="1450.20" width="12.4" height="12.5" fill="#b05050"/>
<text x="433.65" y="1462.00" class="t" transform="scale(0.945,1)">Percussion</text>
<rect x="678.3" y="1416.00" width="12.4" height="12.5" fill="#ae9c9f"/>
<text x="741.16" y="1427.80" class="t" transform="scale(0.945,1)">Woodwinds</text>
<rect x="678.3" y="1433.10" width="12.4" height="12.5" fill="#aac8ff"/>
<text x="741.16" y="1444.90" class="t" transform="scale(0.945,1)">Horns</text>
<rect x="678.3" y="1450.20" width="12.4" height="12.5" fill="#ffc8cc"/>
<text x="741.16" y="1462.00" class="t" transform="scale(0.945,1)">Backing vocals</text>
</svg>
</body></html>
